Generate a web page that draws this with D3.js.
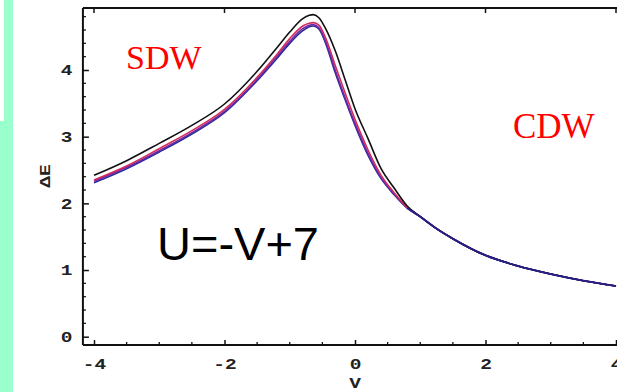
<!DOCTYPE html>
<html><head><meta charset="utf-8">
<script src="https://cdn.jsdelivr.net/npm/d3@7"></script>
<style>html,body{margin:0;padding:0;background:#fff;overflow:hidden}</style>
</head><body><svg id="c" width="617" height="392"></svg>
<script>
// ---- data ----
const V = [-4, -3.5, -3, -2.5, -2, -1.5, -1.2, -1, -0.8, -0.7, -0.64, -0.55, -0.45, -0.3, -0.15, 0, 0.2, 0.4, 0.6, 0.8, 1, 1.25, 1.5, 2, 2.5, 3, 3.5, 4];
const blackE  = [2.42, 2.64, 2.90, 3.17, 3.49, 3.98, 4.33, 4.57, 4.77, 4.82, 4.83, 4.78, 4.62, 4.28, 3.85, 3.42, 2.97, 2.52, 2.23, 1.96, 1.80, 1.62, 1.47, 1.22, 1.06, 0.94, 0.84, 0.76];
const redE    = [2.35, 2.56, 2.82, 3.09, 3.41, 3.89, 4.23, 4.47, 4.66, 4.70, 4.71, 4.67, 4.48, 4.06, 3.65, 3.26, 2.80, 2.42, 2.16, 1.94, 1.80, 1.62, 1.47, 1.22, 1.06, 0.94, 0.84, 0.76];
const purpleE = [2.33, 2.54, 2.79, 3.06, 3.38, 3.86, 4.20, 4.43, 4.62, 4.67, 4.68, 4.63, 4.43, 3.99, 3.58, 3.20, 2.75, 2.39, 2.14, 1.93, 1.80, 1.62, 1.47, 1.22, 1.06, 0.94, 0.84, 0.76];
const blueE   = [2.31, 2.52, 2.77, 3.04, 3.36, 3.84, 4.17, 4.40, 4.59, 4.65, 4.66, 4.61, 4.40, 3.95, 3.55, 3.17, 2.72, 2.37, 2.13, 1.93, 1.80, 1.62, 1.47, 1.22, 1.06, 0.94, 0.84, 0.76];
const seriesNames = ["black", "red", "purple", "blue"];
const xTicks = [-4, -2, 0, 2, 4];
const yTicks = [0, 1, 2, 3, 4];
const xLabel = "V";
const yLabel = "\u0394E";
const phaseLabels = ["SDW", "CDW"];
const formulaLabel = "U=-V+7";

// ---- layout ----
const svg = d3.select("#c");
const x = d3.scaleLinear().domain([-4, 4]).range([94, 616]);
const y = d3.scaleLinear().domain([0, 4]).range([336.7, 70]);
const xMin = -4.17, xMax = 4.17, yMin = -0.125, yMax = 4.93;
const L = x(xMin), R = x(xMax), T = y(yMax), B = y(yMin);
const labFont = "Liberation Mono, monospace";

// green slide decoration
svg.append("rect").attr("x", 4).attr("y", 0).attr("width", 9).attr("height", 122).attr("fill", "#99ffcc");
svg.append("rect").attr("x", 0).attr("y", 121).attr("width", 13).attr("height", 271).attr("fill", "#99ffcc");

// curves
const series = [
  {name: seriesNames[3], vals: blueE, color: "#2a2a9a"},
  {name: seriesNames[2], vals: purpleE, color: "#6a2aa8"},
  {name: seriesNames[1], vals: redE, color: "#d42a5a"},
  {name: seriesNames[0], vals: blackE, color: "#111111"}
];
const line = d3.line().x((d, i) => x(V[i])).y(d => y(d)).curve(d3.curveMonotoneX);
series.forEach(s => {
  svg.append("path").datum(s.vals).attr("d", line).attr("fill", "none")
    .attr("stroke", s.color).attr("stroke-width", 1.6);
});
// merged tail drawn in navy
const tailIdx = d3.range(19, V.length);
svg.append("path").datum(tailIdx).attr("fill", "none").attr("stroke", "#22228c").attr("stroke-width", 1.8)
  .attr("d", d3.line().x(i => x(V[i])).y(i => y(blueE[i])).curve(d3.curveMonotoneX));

// frame
const fr = svg.append("g").attr("stroke", "#111").attr("stroke-width", 2).attr("fill", "none");
fr.append("path").attr("d", `M${L},${B}H${R}M${L},${B}V${T}M${L},${T}H${R}`);

// bottom axis (ticks inward)
const xAx = d3.axisBottom(x).tickValues(xTicks).tickSizeInner(-5).tickSizeOuter(0).tickPadding(13)
  .tickFormat(d => d3.format("d")(d).replace("\u2212", "-"));
const gx = svg.append("g").attr("transform", `translate(0,${B})`).call(xAx);
gx.select(".domain").remove();
gx.selectAll("line").attr("stroke", "#111").attr("stroke-width", 1.5);
gx.selectAll("text").attr("font-family", labFont).attr("font-weight", "bold")
  .attr("font-size", 15).attr("fill", "#222").attr("transform", "scale(1.3,1)");
const xMinor = d3.range(-4, 4.01, 0.5).filter(v => !xTicks.includes(v));
svg.append("g").selectAll("line").data(xMinor).join("line")
  .attr("x1", d => x(d)).attr("x2", d => x(d)).attr("y1", B).attr("y2", B - 3)
  .attr("stroke", "#111").attr("stroke-width", 1.3);
// top ticks
svg.append("g").selectAll("line").data(xTicks).join("line")
  .attr("x1", d => x(d)).attr("x2", d => x(d)).attr("y1", T).attr("y2", T + 5)
  .attr("stroke", "#111").attr("stroke-width", 1.5);

// left axis (ticks inward)
const yAx = d3.axisLeft(y).tickValues(yTicks).tickSizeInner(-6).tickSizeOuter(0).tickPadding(8).tickFormat(d3.format("d"));
const gy = svg.append("g").attr("transform", `translate(${L},0)`).call(yAx);
gy.select(".domain").remove();
gy.selectAll("line").attr("stroke", "#111").attr("stroke-width", 1.5);
gy.selectAll("text").attr("font-family", labFont).attr("font-weight", "bold")
  .attr("font-size", 15).attr("fill", "#222").attr("transform", "scale(1.3,1)");
const yMinor = d3.range(0, 4.85, 0.2).map(v => +v.toFixed(1)).filter(v => !yTicks.includes(v));
svg.append("g").selectAll("line").data(yMinor).join("line")
  .attr("x1", L).attr("x2", L + 3).attr("y1", d => y(d)).attr("y2", d => y(d))
  .attr("stroke", "#111").attr("stroke-width", 1.3);

// axis labels
svg.append("text").attr("transform", `translate(${x(0)},388) scale(1.3,1)`).attr("text-anchor", "middle")
  .attr("font-family", labFont).attr("font-weight", "bold").attr("font-size", 15).attr("fill", "#222")
  .text(xLabel);
svg.append("text").attr("transform", `translate(50,176) rotate(-90) scale(1.3,1)`).attr("text-anchor", "middle")
  .attr("font-family", labFont).attr("font-weight", "bold").attr("font-size", 15).attr("fill", "#222")
  .text(yLabel);

// annotations
svg.append("text").attr("x", 126).attr("y", 69).attr("font-family", "Liberation Serif, serif")
  .attr("font-size", 34).attr("fill", "#ff0000").text(phaseLabels[0]);
svg.append("text").attr("x", 513).attr("y", 138).attr("font-family", "Liberation Serif, serif")
  .attr("font-size", 35).attr("fill", "#ff0000").text(phaseLabels[1]);
svg.append("text").attr("x", 157).attr("y", 260).attr("font-family", "Liberation Sans, Arial, sans-serif")
  .attr("font-size", 47).attr("fill", "#000").text(formulaLabel);
</script></body></html>
